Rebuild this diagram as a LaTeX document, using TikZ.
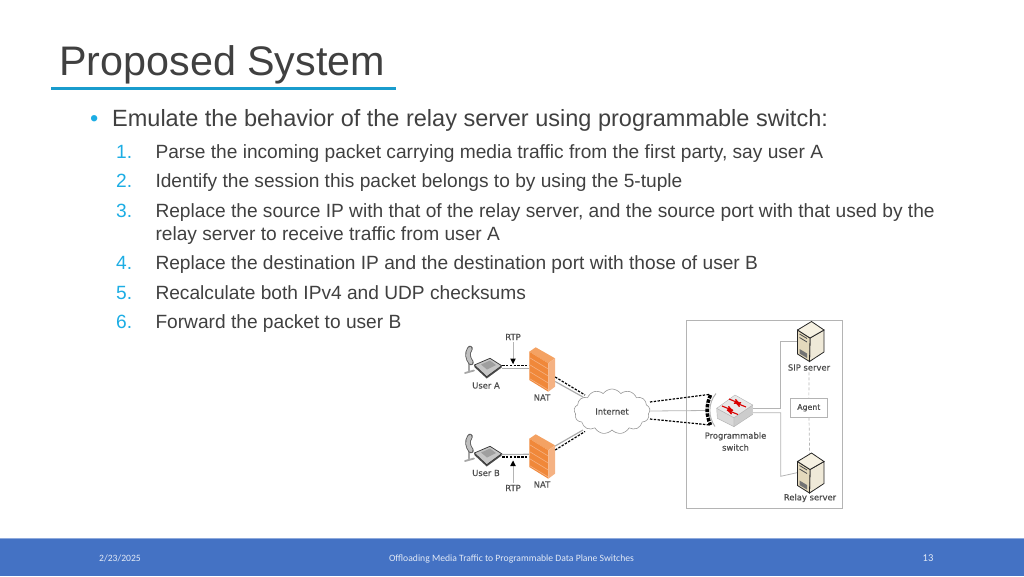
\documentclass[tikz,border=0pt]{standalone}
\usepackage{fontspec}
\setmainfont{Liberation Sans}
\newfontfamily\figfont[FakeBold=0.6]{DejaVu Sans}
\newfontfamily\footfont{Carlito}
\usetikzlibrary{arrows, positioning, shapes.symbols}

\definecolor{accent}{HTML}{1CADE4}
\definecolor{textgray}{HTML}{404040}
\definecolor{footblue}{HTML}{4472C4}
\definecolor{linegray}{HTML}{B4B4B4}
\definecolor{nattop}{HTML}{F4A263}
\definecolor{natfront}{HTML}{F0883A}
\definecolor{natside}{HTML}{F5B283}
\definecolor{srvtop}{HTML}{F6F1E2}
\definecolor{srvfront}{HTML}{E4D9BC}
\definecolor{srvside}{HTML}{EFE9D8}

\tikzset{
  pics/phone/.style={code={
    \draw[line width=1.8pt,line cap=round,gray!70] (-19,-3) -- (-19,4) (-23,6.5) -- (-14,4);
    \draw[line width=5.5pt,line cap=round,black!65] (-18,-18) .. controls (-21.5,-13) and (-20,-8) .. (-17,-4);
    \draw[line width=3.8pt,line cap=round,gray!50] (-18,-18) .. controls (-21.5,-13) and (-20,-8) .. (-17,-4);
    \fill[gray!60!black] (-13.7,-1.5) -- (-1.3,10.2) -- (13.7,-0.8) -- (13.7,1) -- (-1.3,12) -- (-13.7,0.5) -- cycle;
    \draw[fill=gray!45,draw=black!80,line width=.7pt] (-13.7,-1.5) -- (2,-8.2) -- (13.7,-0.8) -- (-1.3,10.2) -- cycle;
    \fill[gray!75] (-7,-2) -- (2,-6) -- (8,-1.5) -- (-1,3) -- cycle;
  }},
  pics/nat/.style={code={
    \fill[nattop] (-6.3,-22.2) -- (13,-11.2) -- (6.3,-6.2) -- (-12.7,-17.8) -- cycle;
    \fill[natfront] (-12.7,-17.8) -- (6.3,-6.2) -- (6.3,22.2) -- (-12.7,10.5) -- cycle;
    \fill[natside] (6.3,-6.2) -- (13,-11.2) -- (13,17.2) -- (6.3,22.2) -- cycle;
    \foreach \d in {0,7,14,21}
      \draw[natside,line width=.6pt] (-12.7,-12+\d) -- (6.3,-0.5+\d);
  }},
  pics/switchbox/.style={code={
    \draw[fill=gray!30,draw=gray!60,line width=.4pt] (-18.3,-2.7) -- (-1,6.7) -- (-1,15.7) -- (-17.7,7.3) -- cycle;
    \draw[fill=gray!40,draw=gray!60,line width=.4pt] (-1,6.7) -- (17.7,-6) -- (17.7,3.3) -- (-1,15.7) -- cycle;
    \draw[fill=gray!18,draw=gray!60,line width=.4pt] (-18.3,-2.7) -- (0,-16) -- (17.7,-6) -- (-1,6.7) -- cycle;
    \draw[-stealth',red!85!black,line width=1.1pt] (-6,-12) -- (5,-7.5);
    \draw[stealth'-,red!85!black,line width=1.1pt] (0,-8.5) -- (11,-4);
    \draw[-stealth',red!85!black,line width=1.1pt] (-13,-5) -- (-2,-.5);
    \draw[stealth'-,red!85!black,line width=1.1pt] (-8,-1) -- (3,3.5);
    \draw[linegray,line width=1pt] (-19,-17.5) .. controls (-27,-8) and (-27,6) .. (-20,15.5);
    \draw[black,line width=3.5pt,dash pattern=on 3.5pt off 1.2pt] (-24.5,-16) .. controls (-29,-6) and (-29,4) .. (-24.5,14);
  }},
  pics/server/.style={code={
    \draw[fill=srvside,draw=black!85,line width=.8pt] (0,-4) -- (14,-12) -- (14,10) -- (-.5,19.5) -- cycle;
    \draw[fill=srvfront,draw=black!85,line width=.8pt] (-12.5,-12) -- (0,-4) -- (-.5,19.5) -- (-12.5,12) -- cycle;
    \draw[fill=srvtop,draw=black!85,line width=.8pt] (1.5,-20.5) -- (14,-12) -- (0,-4) -- (-12.5,-12) -- cycle;
    \draw[black!70,line width=.8pt] (-10.5,-8) -- (-3,-3.5) (-10.5,-4.5) -- (-3,0);
    \fill[black!55] (-10.5,7) -- (-3,11.5) -- (-3,16) -- (-10.5,11.5) -- cycle;
  }}
}

\begin{document}
\begin{tikzpicture}[x=1pt,y=-1pt,>=stealth',node distance=12pt,
  title node/.style={anchor=base west,inner sep=0pt,text=textgray,font=\fontsize{41.3}{48}\selectfont},
  lead node/.style={anchor=base west,inner sep=0pt,text=textgray,font=\fontsize{23.5}{28}\selectfont},
  item node/.style={anchor=base west,inner sep=0pt,text=textgray,font=\fontsize{19.15}{22}\selectfont},
  num node/.style={item node,text=accent},
  foot node/.style={text=white!85!footblue,font=\footfont\fontsize{9.65}{11}\selectfont},
  fig node/.style={text=black!70,inner sep=0pt,font=\figfont\fontsize{8.4}{9.5}\selectfont},
  icon node/.style={inner sep=0pt,minimum width=#1},
  rtp line/.style={black,line width=1.2pt,dash pattern=on 2.4pt off 1.4pt},
  sig line/.style={gray!65,line width=1.2pt},
  thin line/.style={linegray,line width=.8pt},
  agent link/.style={linegray,line width=.7pt,densely dashed}]

  \useasboundingbox (0,0) rectangle (1024,576);

  % footer band
  \fill[footblue] (0,538) rectangle (1024,576);
  \draw[footblue!60!white,line width=.8pt] (0,538) -- (1024,538);
  \node[foot node] (date) at (120,558.5) {2/23/2025};
  \node[foot node] (foot) at (511.5,558.5) {Offloading Media Traffic to Programmable Data Plane Switches};
  \node[foot node,font=\footfont\fontsize{10.5}{12}\selectfont] (page) at (928,558.5) {13};

  % title
  \node[title node] (title) at (59,75) {Proposed System};
  \draw[accent!90!black,line width=3pt] (51,88) -- (395.5,88);

  % text
  \node[lead node,text=accent] (bullet) at (90,126.7) {•};
  \node[lead node] (lead) at (112,126.7) {Emulate the behavior of the relay server using programmable switch:};
  \node[num node] (n1) at (116,158.3) {1.};
  \node[item node] (t1) at (155.3,158.3) {Parse the incoming packet carrying media traffic from the first party, say user A};
  \node[num node] (n2) at (116,187.7) {2.};
  \node[item node] (t2) at (155.3,187.7) {Identify the session this packet belongs to by using the 5-tuple};
  \node[num node] (n3) at (116,217.3) {3.};
  \node[item node] (t3) at (155.3,217.3) {Replace the source IP with that of the relay server, and the source port with that used by the};
  \node[item node] (t3b) at (155.3,240) {relay server to receive traffic from user A};
  \node[num node] (n4) at (116,269.7) {4.};
  \node[item node] (t4) at (155.3,269.7) {Replace the destination IP and the destination port with those of user B};
  \node[num node] (n5) at (116,299) {5.};
  \node[item node] (t5) at (155.3,299) {Recalculate both IPv4 and UDP checksums};
  \node[num node] (n6) at (116,328.3) {6.};
  \node[item node] (t6) at (155.3,328.3) {Forward the packet to user B};

  % enclosure
  \node[draw=linegray,line width=.8pt,minimum width=156pt,minimum height=188pt,inner sep=0pt] (frame) at (764.7,414.3) {};

  % left side
  \node[icon node=28pt] (phoneA) at (488,366.5) {};
  \node[icon node=28pt] (phoneB) at (488,454.5) {};
  \node[icon node=26pt] (natA) at (542,369.5) {};
  \node[icon node=26pt] (natB) at (542,456.5) {};
  \pic at (phoneA) {phone};
  \pic at (phoneB) {phone};
  \pic at (natA) {nat};
  \pic at (natB) {nat};
  \node[fig node] (userA) at (486,385.5) {User A};
  \node[fig node] (userB) at (486,473) {User B};
  \node[fig node] (labelA) at (542,397.5) {NAT};
  \node[fig node] (labelB) at (542,484.5) {NAT};
  \node[fig node] (rtpA) at (513,337) {RTP};
  \node[fig node] (rtpB) at (513,488) {RTP};
  \coordinate (tipA) at (513,364);
  \coordinate (tipB) at (513,460.5);

  \node[cloud,cloud puffs=13,cloud puff arc=110,aspect=1.7,draw=gray!80,line width=.6pt,fill=white,
    inner sep=0pt,minimum width=76pt,minimum height=45pt,
    text=black!70,font=\figfont\fontsize{8.4}{9.5}\selectfont] (cloud) at (612,411.5) {Internet};

  \path
    ([yshift=-1.8pt]phoneA.east) edge[sig line] ([yshift=1.2pt]natA.west)
    ([yshift=0pt]phoneB.east) edge[sig line] ([yshift=2.2pt]natB.west)
    ([yshift=.8pt]phoneA.east) edge[rtp line] ([yshift=3.8pt]natA.west)
    ([yshift=-2.5pt]phoneB.east) edge[rtp line] ([yshift=-.5pt]natB.west)
    ([yshift=-12pt]natA.east) edge[sig line] ([xshift=9pt,yshift=14.5pt]cloud.west)
    ([yshift=-7.5pt]natA.east) edge[rtp line] ([xshift=11pt,yshift=16.5pt]cloud.west)
    ([yshift=10.5pt]natB.east) edge[sig line] ([xshift=9pt,yshift=-18.5pt]cloud.west)
    ([yshift=6.5pt]natB.east) edge[rtp line] ([xshift=11pt,yshift=-20pt]cloud.west);

  \draw[linegray,line width=.8pt,shorten <=1.5pt] (rtpA) -- (tipA);
  \draw[linegray,line width=.8pt,shorten <=1.5pt] (rtpB) -- (tipB);
  \fill (tipA) -- ++(-2.8,-5.5) -- ++(5.6,0) -- cycle;
  \fill (tipB) -- ++(-2.8,5.5) -- ++(5.6,0) -- cycle;

  % right side
  \node[icon node=36pt] (switch) at (735,411) {};
  \node[fig node,align=center,font=\figfont\fontsize{8.4}{12}\selectfont] (switchlabel) at (735.5,441.5) {Programmable\\switch};
  \node[icon node=27pt] (sip) at (810,342) {};
  \node[icon node=27pt] (relay) at (810,473.5) {};
  \node[fig node] (siplabel) at (809,367.5) {SIP server};
  \node[fig node] (relaylabel) at (810,498) {Relay server};
  \node[draw=linegray,line width=.8pt,minimum width=37pt,minimum height=19pt,inner sep=0pt,
    text=black!70,font=\figfont\fontsize{7.8}{9}\selectfont] (agent) at (808.8,407.8) {Agent};

  \path
    ([yshift=.5pt]cloud.east) edge[thin line] ([xshift=-10pt,yshift=.5pt]switch.west)
    ([yshift=9.5pt]cloud.east) edge[rtp line] ([xshift=-6.5pt,yshift=16.7pt]switch.west)
    ([yshift=-7.5pt]cloud.east) edge[rtp line] ([xshift=-6.5pt,yshift=-14pt]switch.west);

  \draw[thin line] ([yshift=2.7pt]switch.east) -| (780.7,341) -- ([xshift=-13pt,yshift=1pt]sip.center);
  \draw[thin line] ([yshift=-1.7pt]switch.east) -| (780.7,476.3) -- ([xshift=-13pt,yshift=.8pt]relay.center);
  \path (siplabel) edge[agent link,shorten <=1.5pt] (agent)
        (agent) edge[agent link] (relay);

  \pic at (switch) {switchbox};
  \pic at (sip) {server};
  \pic at (relay) {server};
\end{tikzpicture}
\end{document}
